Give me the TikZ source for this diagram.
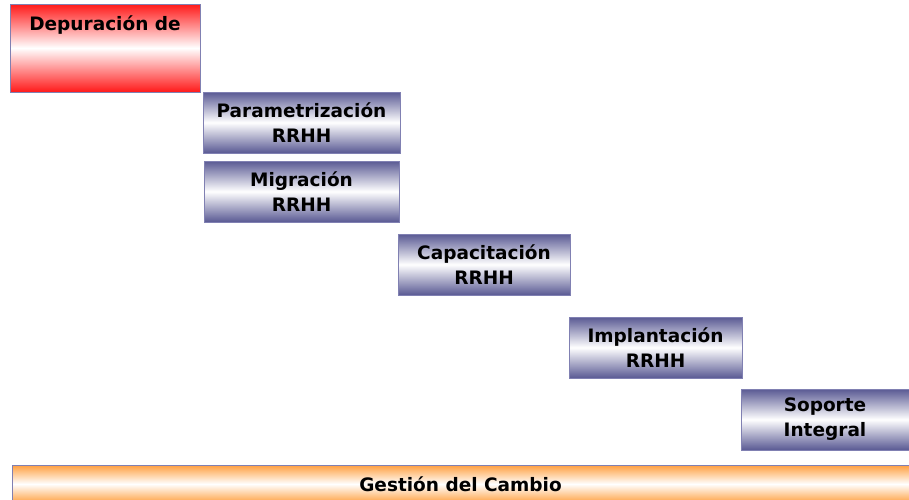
\documentclass[tikz,border=0pt]{standalone}
\usepackage{fontspec}
\setmainfont{DejaVu Sans}
\usepackage{tikz}

\begin{document}
\begin{tikzpicture}[x=1pt,y=-1pt]
        \tikzstyle{every node}+=[inner sep=0pt]
        \tikzstyle{phasefont}=[font=\fontsize{18.5}{25}\selectfont\bfseries]
        \tikzstyle{phase}=[draw=blue!25!gray!80, line width=0.8pt, rectangle, align=center, phasefont,
            top color=blue!35!black!65!white, bottom color=blue!35!black!65!white, middle color=white]
        \tikzstyle{redphase}=[phase, top color=red!90, bottom color=red!90, middle color=white]
        \tikzstyle{orangephase}=[phase, top color=orange!75, bottom color=orange!75, middle color=white]
        \useasboundingbox (0,0) rectangle (909,499);
        \clip (0,0) rectangle (909,499);
        \node [redphase, minimum width=190, minimum height=88] (depur) at (105,48) {};
        \node [phasefont, anchor=north] (depurtxt) at ([yshift=-12]depur.north) {Depuración de};
        \node [phase, minimum width=197, minimum height=61] (param) at (301.5,122.5) {Parametrización\\RRHH};
        \node [phase, minimum width=195, minimum height=61] (migra) at (301.5,191.5) {Migración\\RRHH};
        \node [phase, minimum width=172, minimum height=61] (capac) at (484,264.5) {Capacitación\\RRHH};
        \node [phase, minimum width=173, minimum height=61] (impla) at (655.5,347.5) {Implantación\\RRHH};
        \node [phase, minimum width=168, minimum height=61] (sopor) at (825,419.5) {Soporte\\Integral};
        \node [orangephase, minimum width=897, minimum height=38] (gesti) at (460.5,484) {Gestión del Cambio};
\end{tikzpicture}
\end{document}
